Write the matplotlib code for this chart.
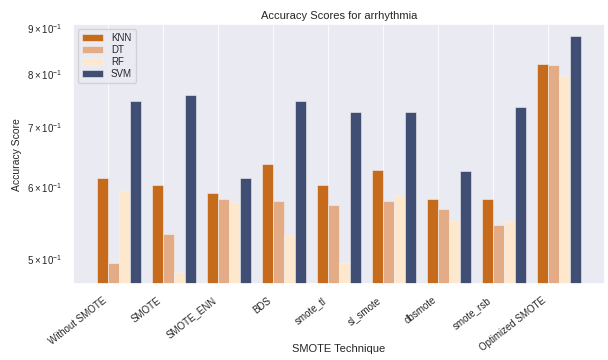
import numpy as np
import matplotlib
matplotlib.use("Agg")
import matplotlib.pyplot as plt
import seaborn as sns

techniques = ["Without SMOTE", "SMOTE", "SMOTE_ENN", "BDS", "smote_tl",
              "sl_smote", "dbsmote", "smote_rsb", "Optimized SMOTE"]
knn = [0.615, 0.604, 0.592, 0.637, 0.604, 0.627, 0.582, 0.582, 0.821]
dt = [0.495, 0.533, 0.583, 0.580, 0.573, 0.579, 0.568, 0.545, 0.820]
rf = [0.596, 0.483, 0.578, 0.531, 0.495, 0.588, 0.552, 0.550, 0.797]
svm = [0.748, 0.759, 0.615, 0.748, 0.726, 0.726, 0.626, 0.737, 0.882]

sns.set_theme(style="darkgrid", rc={"grid.linewidth": 0.6})
plt.rcParams["font.family"] = ["Liberation Sans", "DejaVu Sans"]

fig = plt.figure(figsize=(6.08, 3.6), dpi=100)
ax = fig.add_axes([0.12, 0.211, 0.875, 0.722])

x = np.arange(len(techniques))
width = 0.2
series = [("KNN", knn, "#c66a1b"), ("DT", dt, "#e3ab86"),
          ("RF", rf, "#fee8cd"), ("SVM", svm, "#3f4e72")]
for k, (name, vals, color) in enumerate(series):
    ax.bar(x + (k - 0.5) * width, vals, width, label=name, color=color,
           edgecolor="#f2f2f2", linewidth=0.4)

ax.set_yscale("log")
ax.set_ylim(0.469, 0.909)
ax.set_xticks(x)
ax.set_xticklabels(techniques, rotation=38, ha="right", fontsize=7)
ax.tick_params(axis="y", which="both", labelsize=7)
ax.tick_params(axis="x", pad=2)

ax.set_title("Accuracy Scores for arrhythmia", fontsize=8, pad=4)
ax.set_xlabel("SMOTE Technique", fontsize=8)
ax.xaxis.set_label_coords(0.5, -0.232)
ax.set_ylabel("Accuracy Score", fontsize=7.5)
ax.legend(loc="upper left", fontsize=7, handlelength=2.2, borderpad=0.4,
          labelspacing=0.2)

fig.savefig("out.png", dpi=100)
